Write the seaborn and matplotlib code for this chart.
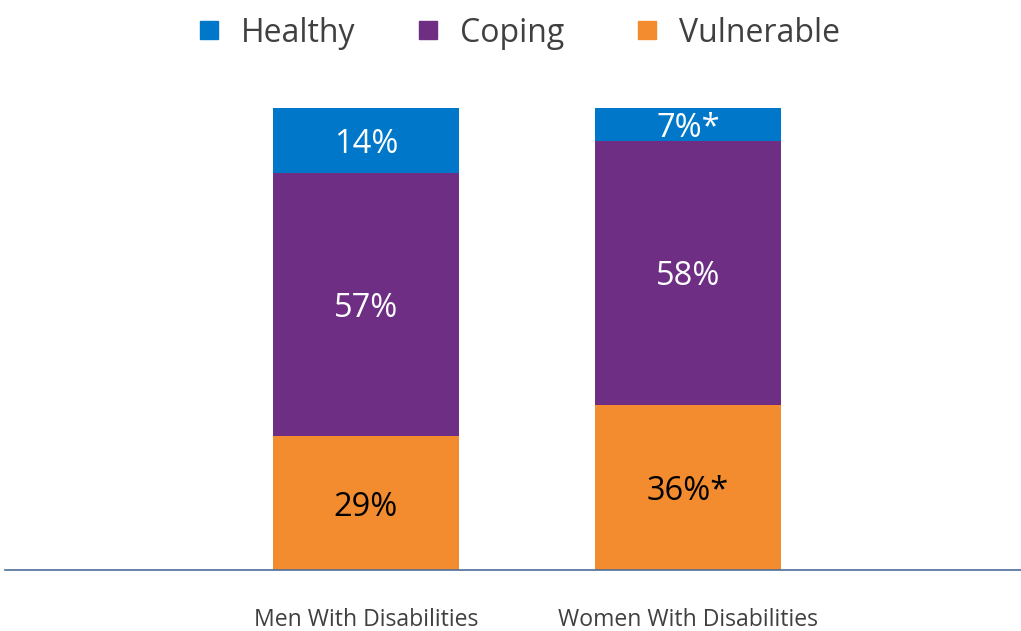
import matplotlib
matplotlib.use("Agg")
import matplotlib.pyplot as plt
from matplotlib.lines import Line2D
import seaborn as sns
import pandas as pd
import numpy as np

categories = ["Men With Disabilities", "Women With Disabilities"]
series_names = ["Healthy", "Coping", "Vulnerable"]
vulnerable = [29.0, 35.7]
coping = [57.0, 57.2]
healthy = [14.0, 7.1]
vulnerable_labels = ["29%", "36%*"]
coping_labels = ["57%", "58%"]
healthy_labels = ["14%", "7%*"]

colors = {"Healthy": "#0077C8", "Coping": "#6D2E84", "Vulnerable": "#F28C2E"}

sns.set_theme(style="white")
plt.rcParams["font.family"] = ["Open Sans", "DejaVu Sans"]

fig = plt.figure(figsize=(10.21, 6.31), dpi=100)
ax = fig.add_axes([5 / 1021, 1 - 570 / 631, 1016 / 1021, (570 - 108) / 631])

df = pd.DataFrame({"cat": categories, "Vulnerable": vulnerable,
                   "Coping": coping, "Healthy": healthy})
bottom = np.zeros(len(categories))
layers = [("Vulnerable", vulnerable_labels, "black"),
          ("Coping", coping_labels, "white"),
          ("Healthy", healthy_labels, "white")]
for name, labels, tcol in layers:
    sns.barplot(data=df, x="cat", y=name, bottom=bottom, color=colors[name],
                width=0.578, ax=ax, saturation=1, linewidth=0)
    vals = df[name].to_numpy()
    for i, (v, lab) in enumerate(zip(vals, labels)):
        ax.text(i, bottom[i] + v / 2, lab, ha="center", va="center_baseline",
                fontsize=23.5, color=tcol)
    bottom = bottom + vals

ax.set_xlim(-1.121, 2.034)
ax.set_ylim(0, 100)
ax.set_xlabel("")
ax.set_ylabel("")
ax.set_yticks([])
for s in ["top", "right", "left"]:
    ax.spines[s].set_visible(False)
ax.spines["bottom"].set_color("#4F6D9A")
ax.spines["bottom"].set_linewidth(1.2)
ax.tick_params(axis="x", length=0, pad=27, labelsize=16.6, labelcolor="#404040")

# legend: one entry per column, evenly spaced
legend_x_px = [193, 412, 631]
for n, xp in zip(series_names, legend_x_px):
    h = Line2D([0], [0], marker="s", linestyle="none", markersize=13,
               markerfacecolor=colors[n], markeredgecolor=colors[n])
    leg = fig.legend([h], [n], loc="center left",
                     bbox_to_anchor=(xp / 1021, 1 - 33 / 631),
                     frameon=False, fontsize=23, labelcolor="#404040",
                     handletextpad=0.5, handlelength=1.0,
                     borderaxespad=0, borderpad=0)

fig.savefig("out.png", dpi=100)
